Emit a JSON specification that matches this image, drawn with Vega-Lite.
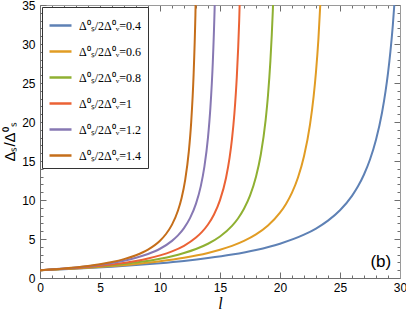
{
  "$schema": "https://vega.github.io/schema/vega-lite/v6.json",
  "autosize": "none",
  "width": 360,
  "height": 273,
  "padding": {"left": 40, "top": 5, "right": 6, "bottom": 39},
  "config": {
    "view": {"stroke": null},
    "axis": {"grid": false, "domainColor": "#6e6e6e", "tickColor": "#6e6e6e", "labelFont": "Liberation Sans", "labelFontSize": 12, "labelColor": "black"}
  },
  "datasets": {
    "curves": [
      {"s": "Δ⁰ₛ/2Δ⁰ᵥ=0.4", "l": 0, "y": 1}, {"s": "Δ⁰ₛ/2Δ⁰ᵥ=0.4", "l": 2, "y": 1.13}, {"s": "Δ⁰ₛ/2Δ⁰ᵥ=0.4", "l": 4, "y": 1.28}, {"s": "Δ⁰ₛ/2Δ⁰ᵥ=0.4", "l": 6, "y": 1.45}, {"s": "Δ⁰ₛ/2Δ⁰ᵥ=0.4", "l": 8, "y": 1.66}, {"s": "Δ⁰ₛ/2Δ⁰ᵥ=0.4", "l": 10, "y": 1.9}, {"s": "Δ⁰ₛ/2Δ⁰ᵥ=0.4", "l": 12, "y": 2.19}, {"s": "Δ⁰ₛ/2Δ⁰ᵥ=0.4", "l": 14, "y": 2.55}, {"s": "Δ⁰ₛ/2Δ⁰ᵥ=0.4", "l": 16, "y": 3.0}, {"s": "Δ⁰ₛ/2Δ⁰ᵥ=0.4", "l": 18, "y": 3.59}, {"s": "Δ⁰ₛ/2Δ⁰ᵥ=0.4", "l": 20, "y": 4.4}, {"s": "Δ⁰ₛ/2Δ⁰ᵥ=0.4", "l": 22, "y": 5.55}, {"s": "Δ⁰ₛ/2Δ⁰ᵥ=0.4", "l": 23, "y": 6.34}, {"s": "Δ⁰ₛ/2Δ⁰ᵥ=0.4", "l": 24, "y": 7.35}, {"s": "Δ⁰ₛ/2Δ⁰ᵥ=0.4", "l": 25, "y": 8.68}, {"s": "Δ⁰ₛ/2Δ⁰ᵥ=0.4", "l": 26, "y": 10.53}, {"s": "Δ⁰ₛ/2Δ⁰ᵥ=0.4", "l": 26.5, "y": 11.75}, {"s": "Δ⁰ₛ/2Δ⁰ᵥ=0.4", "l": 27, "y": 13.27}, {"s": "Δ⁰ₛ/2Δ⁰ᵥ=0.4", "l": 27.5, "y": 15.19}, {"s": "Δ⁰ₛ/2Δ⁰ᵥ=0.4", "l": 28, "y": 17.72}, {"s": "Δ⁰ₛ/2Δ⁰ᵥ=0.4", "l": 28.5, "y": 21.19}, {"s": "Δ⁰ₛ/2Δ⁰ᵥ=0.4", "l": 28.8, "y": 23.98}, {"s": "Δ⁰ₛ/2Δ⁰ᵥ=0.4", "l": 29, "y": 26.26}, {"s": "Δ⁰ₛ/2Δ⁰ᵥ=0.4", "l": 29.2, "y": 29.01}, {"s": "Δ⁰ₛ/2Δ⁰ᵥ=0.4", "l": 29.4, "y": 32.36}, {"s": "Δ⁰ₛ/2Δ⁰ᵥ=0.4", "l": 29.6, "y": 36.58},
      {"s": "Δ⁰ₛ/2Δ⁰ᵥ=0.6", "l": 0, "y": 1}, {"s": "Δ⁰ₛ/2Δ⁰ᵥ=0.6", "l": 2, "y": 1.15}, {"s": "Δ⁰ₛ/2Δ⁰ᵥ=0.6", "l": 4, "y": 1.32}, {"s": "Δ⁰ₛ/2Δ⁰ᵥ=0.6", "l": 6, "y": 1.54}, {"s": "Δ⁰ₛ/2Δ⁰ᵥ=0.6", "l": 8, "y": 1.8}, {"s": "Δ⁰ₛ/2Δ⁰ᵥ=0.6", "l": 10, "y": 2.14}, {"s": "Δ⁰ₛ/2Δ⁰ᵥ=0.6", "l": 12, "y": 2.59}, {"s": "Δ⁰ₛ/2Δ⁰ᵥ=0.6", "l": 14, "y": 3.21}, {"s": "Δ⁰ₛ/2Δ⁰ᵥ=0.6", "l": 15, "y": 3.62}, {"s": "Δ⁰ₛ/2Δ⁰ᵥ=0.6", "l": 16, "y": 4.12}, {"s": "Δ⁰ₛ/2Δ⁰ᵥ=0.6", "l": 17, "y": 4.76}, {"s": "Δ⁰ₛ/2Δ⁰ᵥ=0.6", "l": 18, "y": 5.59}, {"s": "Δ⁰ₛ/2Δ⁰ᵥ=0.6", "l": 19, "y": 6.73}, {"s": "Δ⁰ₛ/2Δ⁰ᵥ=0.6", "l": 20, "y": 8.37}, {"s": "Δ⁰ₛ/2Δ⁰ᵥ=0.6", "l": 20.5, "y": 9.5}, {"s": "Δ⁰ₛ/2Δ⁰ᵥ=0.6", "l": 21, "y": 10.95}, {"s": "Δ⁰ₛ/2Δ⁰ᵥ=0.6", "l": 21.5, "y": 12.89}, {"s": "Δ⁰ₛ/2Δ⁰ᵥ=0.6", "l": 22, "y": 15.6}, {"s": "Δ⁰ₛ/2Δ⁰ᵥ=0.6", "l": 22.5, "y": 19.66}, {"s": "Δ⁰ₛ/2Δ⁰ᵥ=0.6", "l": 22.8, "y": 23.25}, {"s": "Δ⁰ₛ/2Δ⁰ᵥ=0.6", "l": 23, "y": 26.44}, {"s": "Δ⁰ₛ/2Δ⁰ᵥ=0.6", "l": 23.2, "y": 30.61}, {"s": "Δ⁰ₛ/2Δ⁰ᵥ=0.6", "l": 23.4, "y": 36.29},
      {"s": "Δ⁰ₛ/2Δ⁰ᵥ=0.8", "l": 0, "y": 1}, {"s": "Δ⁰ₛ/2Δ⁰ᵥ=0.8", "l": 2, "y": 1.17}, {"s": "Δ⁰ₛ/2Δ⁰ᵥ=0.8", "l": 4, "y": 1.37}, {"s": "Δ⁰ₛ/2Δ⁰ᵥ=0.8", "l": 6, "y": 1.64}, {"s": "Δ⁰ₛ/2Δ⁰ᵥ=0.8", "l": 8, "y": 1.99}, {"s": "Δ⁰ₛ/2Δ⁰ᵥ=0.8", "l": 10, "y": 2.48}, {"s": "Δ⁰ₛ/2Δ⁰ᵥ=0.8", "l": 11, "y": 2.8}, {"s": "Δ⁰ₛ/2Δ⁰ᵥ=0.8", "l": 12, "y": 3.21}, {"s": "Δ⁰ₛ/2Δ⁰ᵥ=0.8", "l": 13, "y": 3.72}, {"s": "Δ⁰ₛ/2Δ⁰ᵥ=0.8", "l": 14, "y": 4.39}, {"s": "Δ⁰ₛ/2Δ⁰ᵥ=0.8", "l": 15, "y": 5.32}, {"s": "Δ⁰ₛ/2Δ⁰ᵥ=0.8", "l": 16, "y": 6.68}, {"s": "Δ⁰ₛ/2Δ⁰ᵥ=0.8", "l": 16.5, "y": 7.63}, {"s": "Δ⁰ₛ/2Δ⁰ᵥ=0.8", "l": 17, "y": 8.87}, {"s": "Δ⁰ₛ/2Δ⁰ᵥ=0.8", "l": 17.5, "y": 10.55}, {"s": "Δ⁰ₛ/2Δ⁰ᵥ=0.8", "l": 18, "y": 12.97}, {"s": "Δ⁰ₛ/2Δ⁰ᵥ=0.8", "l": 18.4, "y": 15.83}, {"s": "Δ⁰ₛ/2Δ⁰ᵥ=0.8", "l": 18.8, "y": 20.22}, {"s": "Δ⁰ₛ/2Δ⁰ᵥ=0.8", "l": 19, "y": 23.43}, {"s": "Δ⁰ₛ/2Δ⁰ᵥ=0.8", "l": 19.2, "y": 27.83}, {"s": "Δ⁰ₛ/2Δ⁰ᵥ=0.8", "l": 19.4, "y": 34.2}, {"s": "Δ⁰ₛ/2Δ⁰ᵥ=0.8", "l": 19.5, "y": 38.59},
      {"s": "Δ⁰ₛ/2Δ⁰ᵥ=1", "l": 0, "y": 1}, {"s": "Δ⁰ₛ/2Δ⁰ᵥ=1", "l": 2, "y": 1.18}, {"s": "Δ⁰ₛ/2Δ⁰ᵥ=1", "l": 4, "y": 1.42}, {"s": "Δ⁰ₛ/2Δ⁰ᵥ=1", "l": 6, "y": 1.74}, {"s": "Δ⁰ₛ/2Δ⁰ᵥ=1", "l": 8, "y": 2.19}, {"s": "Δ⁰ₛ/2Δ⁰ᵥ=1", "l": 9, "y": 2.5}, {"s": "Δ⁰ₛ/2Δ⁰ᵥ=1", "l": 10, "y": 2.9}, {"s": "Δ⁰ₛ/2Δ⁰ᵥ=1", "l": 11, "y": 3.42}, {"s": "Δ⁰ₛ/2Δ⁰ᵥ=1", "l": 12, "y": 4.13}, {"s": "Δ⁰ₛ/2Δ⁰ᵥ=1", "l": 13, "y": 5.18}, {"s": "Δ⁰ₛ/2Δ⁰ᵥ=1", "l": 13.5, "y": 5.91}, {"s": "Δ⁰ₛ/2Δ⁰ᵥ=1", "l": 14, "y": 6.86}, {"s": "Δ⁰ₛ/2Δ⁰ᵥ=1", "l": 14.5, "y": 8.14}, {"s": "Δ⁰ₛ/2Δ⁰ᵥ=1", "l": 15, "y": 9.98}, {"s": "Δ⁰ₛ/2Δ⁰ᵥ=1", "l": 15.5, "y": 12.83}, {"s": "Δ⁰ₛ/2Δ⁰ᵥ=1", "l": 15.8, "y": 15.44}, {"s": "Δ⁰ₛ/2Δ⁰ᵥ=1", "l": 16, "y": 17.84}, {"s": "Δ⁰ₛ/2Δ⁰ᵥ=1", "l": 16.2, "y": 21.09}, {"s": "Δ⁰ₛ/2Δ⁰ᵥ=1", "l": 16.4, "y": 25.76}, {"s": "Δ⁰ₛ/2Δ⁰ᵥ=1", "l": 16.6, "y": 33.02}, {"s": "Δ⁰ₛ/2Δ⁰ᵥ=1", "l": 16.7, "y": 38.41},
      {"s": "Δ⁰ₛ/2Δ⁰ᵥ=1.2", "l": 0, "y": 1}, {"s": "Δ⁰ₛ/2Δ⁰ᵥ=1.2", "l": 2, "y": 1.22}, {"s": "Δ⁰ₛ/2Δ⁰ᵥ=1.2", "l": 4, "y": 1.51}, {"s": "Δ⁰ₛ/2Δ⁰ᵥ=1.2", "l": 6, "y": 1.93}, {"s": "Δ⁰ₛ/2Δ⁰ᵥ=1.2", "l": 7, "y": 2.22}, {"s": "Δ⁰ₛ/2Δ⁰ᵥ=1.2", "l": 8, "y": 2.59}, {"s": "Δ⁰ₛ/2Δ⁰ᵥ=1.2", "l": 9, "y": 3.08}, {"s": "Δ⁰ₛ/2Δ⁰ᵥ=1.2", "l": 10, "y": 3.75}, {"s": "Δ⁰ₛ/2Δ⁰ᵥ=1.2", "l": 11, "y": 4.76}, {"s": "Δ⁰ₛ/2Δ⁰ᵥ=1.2", "l": 11.5, "y": 5.46}, {"s": "Δ⁰ₛ/2Δ⁰ᵥ=1.2", "l": 12, "y": 6.39}, {"s": "Δ⁰ₛ/2Δ⁰ᵥ=1.2", "l": 12.5, "y": 7.67}, {"s": "Δ⁰ₛ/2Δ⁰ᵥ=1.2", "l": 13, "y": 9.53}, {"s": "Δ⁰ₛ/2Δ⁰ᵥ=1.2", "l": 13.4, "y": 11.78}, {"s": "Δ⁰ₛ/2Δ⁰ᵥ=1.2", "l": 13.7, "y": 14.27}, {"s": "Δ⁰ₛ/2Δ⁰ᵥ=1.2", "l": 14, "y": 18.04}, {"s": "Δ⁰ₛ/2Δ⁰ᵥ=1.2", "l": 14.2, "y": 21.85}, {"s": "Δ⁰ₛ/2Δ⁰ᵥ=1.2", "l": 14.4, "y": 27.63}, {"s": "Δ⁰ₛ/2Δ⁰ᵥ=1.2", "l": 14.55, "y": 34.42}, {"s": "Δ⁰ₛ/2Δ⁰ᵥ=1.2", "l": 14.65, "y": 41.12},
      {"s": "Δ⁰ₛ/2Δ⁰ᵥ=1.4", "l": 0, "y": 1}, {"s": "Δ⁰ₛ/2Δ⁰ᵥ=1.4", "l": 2, "y": 1.23}, {"s": "Δ⁰ₛ/2Δ⁰ᵥ=1.4", "l": 4, "y": 1.55}, {"s": "Δ⁰ₛ/2Δ⁰ᵥ=1.4", "l": 5, "y": 1.77}, {"s": "Δ⁰ₛ/2Δ⁰ᵥ=1.4", "l": 6, "y": 2.05}, {"s": "Δ⁰ₛ/2Δ⁰ᵥ=1.4", "l": 7, "y": 2.42}, {"s": "Δ⁰ₛ/2Δ⁰ᵥ=1.4", "l": 8, "y": 2.92}, {"s": "Δ⁰ₛ/2Δ⁰ᵥ=1.4", "l": 9, "y": 3.64}, {"s": "Δ⁰ₛ/2Δ⁰ᵥ=1.4", "l": 10, "y": 4.78}, {"s": "Δ⁰ₛ/2Δ⁰ᵥ=1.4", "l": 10.5, "y": 5.64}, {"s": "Δ⁰ₛ/2Δ⁰ᵥ=1.4", "l": 11, "y": 6.84}, {"s": "Δ⁰ₛ/2Δ⁰ᵥ=1.4", "l": 11.5, "y": 8.65}, {"s": "Δ⁰ₛ/2Δ⁰ᵥ=1.4", "l": 11.8, "y": 10.26}, {"s": "Δ⁰ₛ/2Δ⁰ᵥ=1.4", "l": 12.1, "y": 12.58}, {"s": "Δ⁰ₛ/2Δ⁰ᵥ=1.4", "l": 12.4, "y": 16.19}, {"s": "Δ⁰ₛ/2Δ⁰ᵥ=1.4", "l": 12.6, "y": 19.99}, {"s": "Δ⁰ₛ/2Δ⁰ᵥ=1.4", "l": 12.8, "y": 26.05}, {"s": "Δ⁰ₛ/2Δ⁰ᵥ=1.4", "l": 12.95, "y": 33.65}, {"s": "Δ⁰ₛ/2Δ⁰ᵥ=1.4", "l": 13.05, "y": 41.73}
    ],
    "tag": [{"l": 28.4, "y": 2.0, "t": "(b)"}]
  },
  "layer": [
    {
      "data": {"name": "curves"},
      "mark": {"type": "line", "interpolate": "monotone", "clip": true, "strokeWidth": 2},
      "encoding": {
        "x": {
          "field": "l", "type": "quantitative",
          "scale": {"domain": [0, 30], "nice": false, "zero": false},
          "axis": {
            "orient": "bottom",
            "values": [0,1,2,3,4,5,6,7,8,9,10,11,12,13,14,15,16,17,18,19,20,21,22,23,24,25,26,27,28,29,30],
            "labelExpr": "datum.value % 5 === 0 ? datum.label : ''",
            "tickSize": {"condition": {"test": "datum.value % 5 === 0", "value": -6}, "value": -3},
            "labelPadding": 10,
            "labelFlush": false,
            "title": "l",
            "titleFont": "Liberation Serif",
            "titleFontStyle": "italic",
            "titleFontWeight": "normal",
            "titleFontSize": 16,
            "titlePadding": 2
          }
        },
        "y": {
          "field": "y", "type": "quantitative",
          "scale": {"domain": [0, 35], "nice": false, "zero": false},
          "axis": {
            "orient": "left",
            "values": [0,1,2,3,4,5,6,7,8,9,10,11,12,13,14,15,16,17,18,19,20,21,22,23,24,25,26,27,28,29,30,31,32,33,34,35],
            "labelExpr": "datum.value % 5 === 0 ? datum.label : ''",
            "tickSize": {"condition": {"test": "datum.value % 5 === 0", "value": -6}, "value": -3},
            "labelPadding": 11,
            "labelFlush": false,
            "title": "Δₛ/Δ⁰ₛ",
            "titleFont": "Liberation Sans",
            "titleFontWeight": "normal",
            "titleFontSize": 15,
            "titlePadding": 4
          }
        },
        "color": {
          "field": "s", "type": "nominal",
          "scale": {
            "domain": ["Δ⁰ₛ/2Δ⁰ᵥ=0.4", "Δ⁰ₛ/2Δ⁰ᵥ=0.6", "Δ⁰ₛ/2Δ⁰ᵥ=0.8", "Δ⁰ₛ/2Δ⁰ᵥ=1", "Δ⁰ₛ/2Δ⁰ᵥ=1.2", "Δ⁰ₛ/2Δ⁰ᵥ=1.4"],
            "range": ["#5E81B5", "#E19C24", "#8FB032", "#EB6235", "#8778B3", "#C56E1A"]
          },
          "legend": {
            "orient": "top-left",
            "offset": 2,
            "title": null,
            "symbolType": "stroke",
            "symbolSize": 484,
            "symbolStrokeWidth": 2.5,
            "labelFont": "Liberation Serif",
            "labelFontSize": 12,
            "labelColor": "black",
            "labelOffset": 6,
            "labelLimit": 200,
            "rowPadding": 7,
            "padding": 6,
            "strokeColor": "#333333",
            "fillColor": "white"
          }
        }
      }
    },
    {
      "data": {"name": "tag"},
      "mark": {"type": "text", "font": "Liberation Sans", "fontSize": 17, "align": "center", "baseline": "middle"},
      "encoding": {
        "x": {
          "field": "l", "type": "quantitative",
          "scale": {"domain": [0, 30], "nice": false, "zero": false},
          "axis": {
            "orient": "top",
            "values": [0,1,2,3,4,5,6,7,8,9,10,11,12,13,14,15,16,17,18,19,20,21,22,23,24,25,26,27,28,29,30],
            "labels": false,
            "tickSize": {"condition": {"test": "datum.value % 5 === 0", "value": -6}, "value": -3},
            "domainColor": "#9a9a9a",
            "title": null
          }
        },
        "y": {
          "field": "y", "type": "quantitative",
          "scale": {"domain": [0, 35], "nice": false, "zero": false},
          "axis": {
            "orient": "right",
            "values": [0,1,2,3,4,5,6,7,8,9,10,11,12,13,14,15,16,17,18,19,20,21,22,23,24,25,26,27,28,29,30,31,32,33,34,35],
            "labels": false,
            "tickSize": {"condition": {"test": "datum.value % 5 === 0", "value": -6}, "value": -3},
            "domainColor": "#9a9a9a",
            "title": null
          }
        },
        "text": {"field": "t"}
      }
    }
  ],
  "resolve": {"axis": {"x": "independent", "y": "independent"}}
}
